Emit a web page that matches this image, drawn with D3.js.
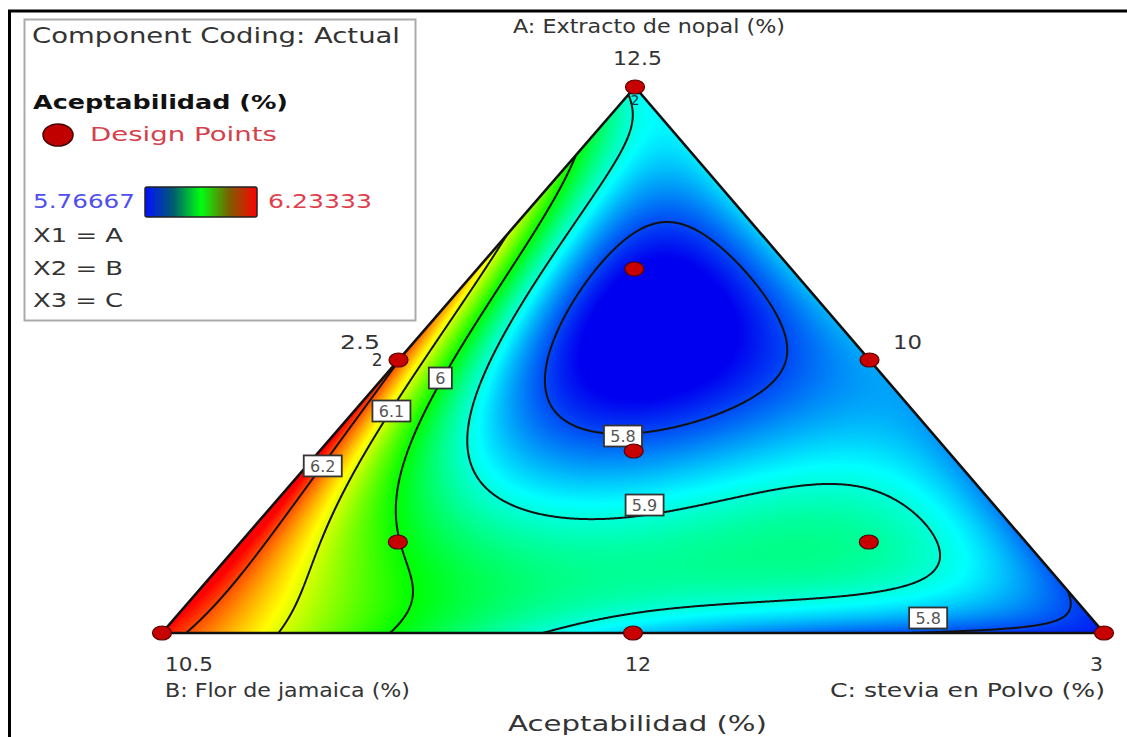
<!DOCTYPE html>
<html><head><meta charset="utf-8">
<script src="https://cdn.jsdelivr.net/npm/d3@7"></script>
<style>html,body{margin:0;padding:0;background:#fff;} svg{display:block;font-family:"DejaVu Sans",Verdana,sans-serif;}</style>
</head><body>
<svg id="chart" width="1127" height="737"></svg>
<script>
// ---------------- DATA ----------------
const componentNames = ["A: Extracto de nopal (%)", "B: Flor de jamaica (%)", "C: stevia en Polvo (%)"];
const vertexLabels = ["12.5", "10.5", "3"];          // A, B, C vertices
const sideLabels = ["2.5", "10", "12"];              // AB side, AC side, BC side
const responseName = "Aceptabilidad (%)";
const responseRange = [5.76667, 6.23333];
const contourLevels = [5.8, 5.9, 6.0, 6.1, 6.2];
const legendLines = ["X1 = A", "X2 = B", "X3 = C"];

// design points (pseudo-component fractions) and responses
const designA = [1, 0, 0, 0.5, 0.5, 0, 1/3, 2/3, 1/6, 1/6];
const designB = [0, 1, 0, 0.5, 0, 0.5, 1/3, 1/6, 2/3, 1/6];
const designC = [0, 0, 1, 0, 0.5, 0.5, 1/3, 1/6, 1/6, 2/3];
const designValue = [5.89, 6.23, 5.78, 6.2, 5.845, 5.86, 5.81, 5.77, 6.0, 5.93];
const designReplicates = [2, 1, 1, 2, 1, 1, 1, 1, 1, 1];

// extra surface readings (points on the drawn contours, edges, minimum)
const readA = [0.725, 0.86, 0.25, 0, 0, 0, 0, 0, 0, 0.8333, 0.1667,
  0.306,
  0.207, 0.408, 0.506,
  0.280, 0.469, 0.623,
  0.927, 0.817, 0.683, 0.560, 0.440, 0.335, 0.277, 0.229, 0.234, 0.264, 0.289, 0.057, 0.037,
  0.780, 0.670, 0.463, 0.348, 0.408, 0.5, 0.714,
  0.573];
const readB = [0.275, 0.14, 0.75, 0.979, 0.877, 0.758, 0.608, 0.25, 0.12, 0, 0,
  0.677,
  0.708, 0.555, 0.463,
  0.603, 0.471, 0.334,
  0.050, 0.125, 0.234, 0.349, 0.446, 0.512, 0.514, 0.506, 0.371, 0.234, 0.094, 0.220, 0.410,
  0.083, 0.223, 0.379, 0.327, 0.159, 0.092, 0.052,
  0.197];
const readValue = [6.1, 6.0, 6.245, 6.2, 6.1, 6.0, 5.9, 5.79, 5.785, 5.87, 5.805,
  6.2,
  6.1, 6.1, 6.1,
  6.0, 6.0, 6.0,
  5.9, 5.9, 5.9, 5.9, 5.9, 5.9, 5.9, 5.9, 5.9, 5.9, 5.9, 5.9, 5.9,
  5.8, 5.8, 5.8, 5.8, 5.8, 5.8, 5.8,
  5.765];

// contour label anchors (ternary a, b) and text
const labelText = ["6.2", "6.1", "6", "5.8", "5.9", "5.8"];
const labelAnchorA = [0.306, 0.4066, 0.467, 0.3608, 0.2344, 0.0275];
const labelAnchorB = [0.677, 0.554, 0.472, 0.331, 0.371, 0.173];

// ---------------- LAYOUT ----------------
const W = 1127, H = 737;
const TOP = [635, 87], LEFT = [162, 633], RIGHT = [1104, 633];
const svg = d3.select("#chart");

// ternary -> pixel via linear scales
const yOfA = d3.scaleLinear().domain([0, 1]).range([LEFT[1], TOP[1]]);
const xOfA = d3.scaleLinear().domain([0, 1]).range([0, TOP[0] - LEFT[0]]);
const xOfC = d3.scaleLinear().domain([0, 1]).range([0, RIGHT[0] - LEFT[0]]);
function toXY(a, b, c) { return [LEFT[0] + xOfA(a) + xOfC(c), yOfA(a)]; }
function toABC(x, y) {
  const a = yOfA.invert(y);
  const c = xOfC.invert(x - LEFT[0] - xOfA(a));
  return [a, 1 - a - c, c];
}

// ---------------- FIT (least squares quartic in a, c) ----------------
function basis(a, c) {
  const t = [];
  for (let i = 0; i <= 4; i++) for (let j = 0; j <= 4 - i; j++) t.push(Math.pow(a, i) * Math.pow(c, j));
  return t;
}
const samples = [];
designA.forEach((a, i) => samples.push({a, c: designC[i], v: designValue[i], w: 3}));
readA.forEach((a, i) => samples.push({a, c: 1 - a - readB[i], v: readValue[i], w: 1}));
const P = basis(0, 0).length;
const M = Array.from({length: P}, () => new Float64Array(P));
const rhs = new Float64Array(P);
samples.forEach(s => {
  const f = basis(s.a, s.c);
  for (let i = 0; i < P; i++) {
    rhs[i] += s.w * f[i] * (s.v - 6);
    for (let j = 0; j < P; j++) M[i][j] += s.w * f[i] * f[j];
  }
});
for (let i = 0; i < P; i++) M[i][i] += 1e-7;
function solve(A, bvec) {
  const n = bvec.length, m = A.map(r => Array.from(r)), x = Array.from(bvec);
  for (let k = 0; k < n; k++) {
    let p = k; for (let i = k + 1; i < n; i++) if (Math.abs(m[i][k]) > Math.abs(m[p][k])) p = i;
    [m[k], m[p]] = [m[p], m[k]]; [x[k], x[p]] = [x[p], x[k]];
    for (let i = k + 1; i < n; i++) {
      const f = m[i][k] / m[k][k];
      for (let j = k; j < n; j++) m[i][j] -= f * m[k][j];
      x[i] -= f * x[k];
    }
  }
  for (let k = n - 1; k >= 0; k--) {
    let s = x[k]; for (let j = k + 1; j < n; j++) s -= m[k][j] * x[j];
    x[k] = s / m[k][k];
  }
  return x;
}
const coef = solve(M, rhs);
function model(a, c) { const f = basis(a, c); let s = 6; for (let i = 0; i < P; i++) s += coef[i] * f[i]; return s; }

// ---------------- COLOR ----------------
const lo = responseRange[0], hi = responseRange[1], span = hi - lo;
const color = d3.scaleLinear()
  .domain([lo, lo + span * 0.25, lo + span * 0.5, lo + span * 0.75, hi])
  .range(["#0000f0", "#00ffff", "#00ff00", "#ffff00", "#ff0000"])
  .clamp(true);

// ---------------- GRID ----------------
const pad = 4;
const gx0 = LEFT[0] - pad, gy0 = TOP[1] - pad;
const gw = RIGHT[0] - LEFT[0] + 2 * pad + 1, gh = LEFT[1] - TOP[1] + 2 * pad + 1;
const values = new Float64Array(gw * gh);
const canvas = document.createElement("canvas");
canvas.width = gw; canvas.height = gh;
const ctx = canvas.getContext("2d");
const img = ctx.createImageData(gw, gh);
for (let j = 0; j < gh; j++) {
  for (let i = 0; i < gw; i++) {
    const [a, b, c] = toABC(gx0 + i + 0.5, gy0 + j + 0.5);
    const v = model(a, c);
    values[j * gw + i] = v;
    const col = d3.rgb(color(v));
    const k = (j * gw + i) * 4;
    img.data[k] = col.r; img.data[k + 1] = col.g; img.data[k + 2] = col.b; img.data[k + 3] = 255;
  }
}
ctx.putImageData(img, 0, 0);

const defs = svg.append("defs");
defs.append("clipPath").attr("id", "tri").append("path")
  .attr("d", `M${TOP}L${LEFT}L${RIGHT}Z`);
const grad = defs.append("linearGradient").attr("id", "bar");
[["0%", "#0010ff"], ["25%", "#005a70"], ["50%", "#00ff10"], ["75%", "#7a6000"], ["100%", "#ff0000"]]
  .forEach(s => grad.append("stop").attr("offset", s[0]).attr("stop-color", s[1]));

// frame
svg.append("line").attr("x1", 8).attr("x2", W).attr("y1", 11).attr("y2", 11).attr("stroke", "#000").attr("stroke-width", 3);
svg.append("line").attr("x1", 9.5).attr("x2", 9.5).attr("y1", 10).attr("y2", H).attr("stroke", "#000").attr("stroke-width", 3);

const plot = svg.append("g").attr("clip-path", "url(#tri)");
plot.append("image").attr("x", gx0).attr("y", gy0).attr("width", gw).attr("height", gh)
  .attr("preserveAspectRatio", "none").attr("href", canvas.toDataURL());

const contours = d3.contours().size([gw, gh]).thresholds(contourLevels)(values);
const path = d3.geoPath(d3.geoIdentity().translate([gx0, gy0]));
plot.selectAll("path.ct").data(contours).join("path").attr("class", "ct")
  .attr("d", path).attr("fill", "none").attr("stroke", "#121212").attr("stroke-width", 2);

// triangle outline
svg.append("path").attr("d", `M${TOP}L${LEFT}L${RIGHT}Z`).attr("fill", "none")
  .attr("stroke", "#111").attr("stroke-width", 2.6).attr("stroke-linejoin", "miter");

// contour labels
labelText.forEach((t, i) => {
  const a = labelAnchorA[i], b = labelAnchorB[i];
  const [x, y] = toXY(a, b, 1 - a - b);
  const w = t.length === 1 ? 23 : 38, h = 21;
  const g = svg.append("g");
  g.append("rect").attr("x", x - w / 2).attr("y", y - h / 2).attr("width", w).attr("height", h)
    .attr("fill", "#fff").attr("stroke", "#333").attr("stroke-width", 1.8);
  g.append("text").attr("x", x).attr("y", y + 6).attr("text-anchor", "middle")
    .attr("font-size", 16).attr("fill", "#555").text(t);
});

// design points
designA.forEach((a, i) => {
  const [x, y] = toXY(a, designB[i], designC[i]);
  svg.append("ellipse").attr("cx", x).attr("cy", y).attr("rx", 9.5).attr("ry", 7)
    .attr("fill", "#c80000").attr("stroke", "#500").attr("stroke-width", 1.2);
});
// replicate counts
{
  const [x0, y0] = toXY(designA[0], designB[0], designC[0]);
  svg.append("text").attr("x", x0).attr("y", y0 + 18).attr("text-anchor", "middle").attr("font-size", 14)
    .attr("fill", "#234").text(designReplicates[0]);
  const [x3, y3] = toXY(designA[3], designB[3], designC[3]);
  svg.append("text").attr("x", x3 - 16).attr("y", y3 + 6).attr("text-anchor", "end").attr("font-size", 17)
    .attr("fill", "#333").text(designReplicates[3]);
}

// axis texts
function txt(s, x, y, size, len, opts = {}) {
  const t = svg.append("text").attr("x", x).attr("y", y).attr("font-size", size)
    .attr("fill", opts.fill || "#333").attr("text-anchor", opts.anchor || "start").text(s);
  if (opts.bold) t.attr("font-weight", "bold");
  if (len) t.attr("textLength", len).attr("lengthAdjust", "spacingAndGlyphs");
  return t;
}
txt(componentNames[0], 513, 33, 19, 272);
txt(vertexLabels[0], 613, 65, 19, 49);
txt(sideLabels[0], 340, 349, 19, 40);
txt(sideLabels[1], 893, 349, 19, 29);
txt(vertexLabels[1], 165, 671, 19, 48);
txt(sideLabels[2], 625, 671, 19, 26);
txt(vertexLabels[2], 1090, 671, 19, 13);
txt(componentNames[1], 165, 697, 19, 245);
txt(componentNames[2], 830, 697, 19, 275);
txt(responseName, 508, 731, 21, 259);

// legend
svg.append("rect").attr("x", 24.5).attr("y", 19.5).attr("width", 391).attr("height", 301)
  .attr("fill", "#fff").attr("stroke", "#aaa").attr("stroke-width", 2);
txt("Component Coding: Actual", 32, 43, 21, 368);
txt(responseName, 33, 109, 20, 255, {bold: true, fill: "#111"});
svg.append("ellipse").attr("cx", 58).attr("cy", 135).attr("rx", 15).attr("ry", 11)
  .attr("fill", "#c00000").attr("stroke", "#400").attr("stroke-width", 1.5);
txt("Design Points", 90, 141, 20, 187, {fill: "#d4404c"});
txt(d3.format(".6")(responseRange[0]), 33, 208, 20, 102, {fill: "#5050ee"});
svg.append("rect").attr("x", 145).attr("y", 187).attr("width", 112).attr("height", 30)
  .attr("fill", "url(#bar)").attr("stroke", "#222").attr("stroke-width", 1.5).attr("rx", 2);
txt(d3.format(".6")(responseRange[1]), 268, 208, 20, 104, {fill: "#e0404c"});
legendLines.forEach((s, i) => txt(s, 33, 242 + i * 32.5, 19, 90));
</script>
</body></html>
